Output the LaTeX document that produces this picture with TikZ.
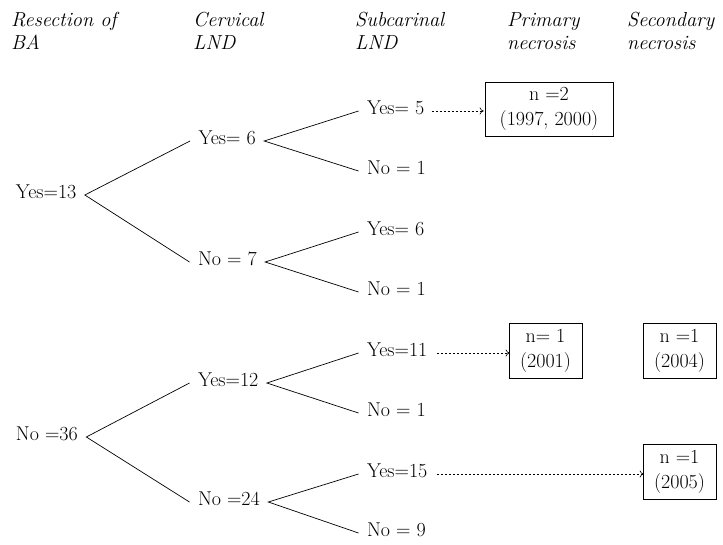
\documentclass[tikz,border=0pt]{standalone}
\usetikzlibrary{arrows.meta}
\begin{document}
\begin{tikzpicture}[x=1pt,y=-1pt,
  every node/.style={font=\fontsize{20}{23}\selectfont},
  hdr/.style={anchor=north west,inner sep=0pt,align=left,font=\fontsize{20.3}{23}\selectfont\itshape},
  lbl/.style={anchor=west,inner sep=0pt,outer xsep=8.5pt,outer ysep=0pt,text height=0.68em,text depth=0pt},
  branch/.style={line width=0.7pt},
  res/.style={draw,line width=0.7pt,inner sep=0pt,align=center,font=\fontsize{20}{25}\selectfont},
  flow/.style={line width=0.6pt,dash pattern=on 2.6pt off 1.4pt,-{To[length=4pt,width=7pt]}}
]
\useasboundingbox (0,0) rectangle (723,544);
% headers
\node[hdr] (h1) at (11,12) {Resection of\\BA};
\node[hdr] (h2) at (193,12) {Cervical\\LND};
\node[hdr] (h3) at (355,12) {Subcarinal\\LND};
\node[hdr] (h4) at (507,12) {Primary\\necrosis};
\node[hdr] (h5) at (627,12) {Secondary\\necrosis};
% level 1
\node[lbl] (r1) at (7.5,195) {Yes=13};
\node[lbl] (r2) at (7.5,437) {No =36};
% level 2
\node[lbl] (c1) at (190,141) {Yes= 6};
\node[lbl] (c2) at (189.5,262) {No = 7};
\node[lbl] (c3) at (189.5,383) {Yes=12};
\node[lbl] (c4) at (189.5,502) {No =24};
% level 3
\node[lbl] (s1) at (358.5,111) {Yes= 5};
\node[lbl] (s2) at (358.5,171) {No = 1};
\node[lbl] (s3) at (358.5,232) {Yes= 6};
\node[lbl] (s4) at (358.5,292) {No = 1};
\node[lbl] (s5) at (358.5,353) {Yes=11};
\node[lbl] (s6) at (358.5,413) {No = 1};
\node[lbl] (s7) at (358.5,474) {Yes=15};
\node[lbl] (s8) at (358.5,533) {No = 9};
% branches
\draw[branch] (c1.west) -- (r1.east) -- (c2.west);
\draw[branch] (c3.west) -- (r2.east) -- (c4.west);
\draw[branch] (s1.west) -- (c1.east) -- (s2.west);
\draw[branch] (s3.west) -- (c2.east) -- (s4.west);
\draw[branch] (s5.west) -- (c3.east) -- (s6.west);
\draw[branch] (s7.west) -- (c4.east) -- (s8.west);
% result boxes
\node[res,minimum width=128pt,minimum height=54pt] (b1) at (549,109) {n =2\\(1997, 2000)};
\node[res,minimum width=73pt,minimum height=55pt] (b2) at (545.5,350.5) {n= 1\\(2001)};
\node[res,minimum width=73pt,minimum height=55pt] (b3) at (679.5,350.5) {n =1\\(2004)};
\node[res,minimum width=73pt,minimum height=55pt] (b4) at (679.5,471.5) {n =1\\(2005)};
% dashed arrows
\draw[flow] ([xshift=-1pt]s1.east) -- ([xshift=-1pt]s1.east -| b1.west);
\draw[flow] ([xshift=1pt]s5.east) -- ([xshift=1pt]s5.east -| b2.west);
\draw[flow] ([xshift=1pt]s7.east) -- ([xshift=1pt]s7.east -| b4.west);
\end{tikzpicture}
\end{document}
